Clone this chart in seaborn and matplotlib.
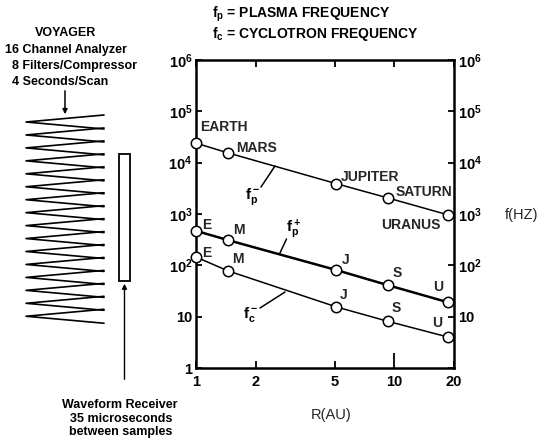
import matplotlib
matplotlib.use("Agg")
import matplotlib.pyplot as plt
import seaborn as sns
import pandas as pd
from matplotlib.ticker import FixedLocator, FixedFormatter, NullLocator

sns.set_style("white")
plt.rcParams['font.family'] = ['Liberation Sans', 'DejaVu Sans']
plt.rcParams['mathtext.fontset'] = 'custom'
plt.rcParams['mathtext.rm'] = 'Liberation Sans:bold'
plt.rcParams['mathtext.it'] = 'Liberation Sans:bold'
plt.rcParams['mathtext.bf'] = 'Liberation Sans:bold'

# ---- data ----
planets = ["EARTH", "MARS", "JUPITER", "SATURN", "URANUS"]
initials = ["E", "M", "J", "S", "U"]
r_au = [1.0, 1.45, 5.1, 9.3, 18.7]
fp_minus = [2.4e4, 1.55e4, 3.9e3, 2.05e3, 960]
fp_plus = [470, 310, 81, 41, 19]
fc_minus = [145, 78, 15.5, 8.1, 4.0]
x_ticks = [1, 2, 5, 10, 20]
x_tick_labels = ["1", "2", "5", "10", "20"]
y_ticks = [1, 10, 1e2, 1e3, 1e4, 1e5, 1e6]
y_tick_labels_left = ["1", "10", r"$\mathregular{10^{2}}$", r"$\mathregular{10^{3}}$",
                      r"$\mathregular{10^{4}}$", r"$\mathregular{10^{5}}$", r"$\mathregular{10^{6}}$"]
y_tick_labels_right = [""] + y_tick_labels_left[1:]

df = pd.DataFrame({"R": r_au * 3,
                   "f": fp_minus + fp_plus + fc_minus,
                   "series": ["fp-"] * 5 + ["fp+"] * 5 + ["fc-"] * 5})

W, H = 539, 441
fig = plt.figure(figsize=(W / 100, H / 100), dpi=100)
ax = fig.add_axes([196 / W, 1 - 368 / H, 258 / W, 308 / H])
ax.patch.set_alpha(0)

widths = {"fp-": 1.1, "fp+": 1.8, "fc-": 1.1}
for name, sub in df.groupby("series", sort=False):
    sns.lineplot(data=sub, x="R", y="f", ax=ax, color="black", lw=widths[name],
                 marker="o", ms=7.5, mfc="white", mec="black", mew=1.1,
                 estimator=None, sort=False, legend=False, clip_on=False, zorder=5)

ax.set_xscale("log")
ax.set_yscale("log")
ax.set_xlim(1, 20)
ax.set_ylim(1, 1e6)
ax.set_xlabel("")
ax.set_ylabel("")
for s in ax.spines.values():
    s.set_linewidth(1.8)
    s.set_color("black")

ax.xaxis.set_major_locator(FixedLocator(x_ticks))
ax.xaxis.set_major_formatter(FixedFormatter(x_tick_labels))
ax.xaxis.set_minor_locator(NullLocator())
ax.yaxis.set_major_locator(FixedLocator(y_ticks))
ax.yaxis.set_major_formatter(FixedFormatter(y_tick_labels_left))
ax.yaxis.set_minor_locator(NullLocator())
ax.tick_params(axis="x", which="major", direction="in", length=5, width=1.3,
               top=True, bottom=True, labelsize=10.5, pad=5, colors="black")
ax.tick_params(axis="y", which="major", direction="in", length=4.5, width=1.3,
               left=True, right=False, labelsize=10.5, pad=2.5, colors="black")
for lab in ax.get_xticklabels() + ax.get_yticklabels():
    lab.set_fontweight("bold")
# longer tick at 10 on bottom
for t, v in zip(ax.xaxis.get_major_ticks(), x_ticks):
    if v == 10:
        t.tick1line.set_markersize(11)

ax2 = ax.twinx()
ax2.set_yscale("log")
ax2.set_ylim(1, 1e6)
ax2.yaxis.set_major_locator(FixedLocator(y_ticks))
ax2.yaxis.set_major_formatter(FixedFormatter(y_tick_labels_right))
ax2.yaxis.set_minor_locator(NullLocator())
ax2.tick_params(axis="y", direction="in", length=4.5, width=1.3, labelsize=10.5, pad=3,
                colors="black")
for lab in ax2.get_yticklabels():
    lab.set_fontweight("bold")
for s in ax2.spines.values():
    s.set_visible(False)
ax.set_zorder(ax2.get_zorder() + 1)

# point labels (offsets in pixels -> points)
def lab(txt, x, y, dx, dy, ha="left"):
    ax.annotate(txt, (x, y), xytext=(dx * 0.72, -dy * 0.72), textcoords="offset points",
                ha=ha, va="center", fontsize=10, fontweight="bold")

fpm_off = [(4, -16, "left"), (8, -5, "left"), (4, -7, "left"), (8, -6, "left"), (-8, 10, "right")]
for name, x, y, (dx, dy, ha) in zip(planets, r_au, fp_minus, fpm_off):
    lab(name, x, y, dx, dy, ha)
fpp_off = [(6, -6, "left"), (5, -10, "left"), (5, -10, "left"), (5, -12, "left"), (-5, -15, "right")]
for name, x, y, (dx, dy, ha) in zip(initials, r_au, fp_plus, fpp_off):
    lab(name, x, y, dx, dy, ha)
fcm_off = [(6, -4, "left"), (4, -12, "left"), (3, -12, "left"), (4, -13, "left"), (-6, -14, "right")]
for name, x, y, (dx, dy, ha) in zip(initials, r_au, fc_minus, fcm_off):
    lab(name, x, y, dx, dy, ha)

# overlay in pixel coordinates for diagram and free text
ov = fig.add_axes([0, 0, 1, 1], zorder=10)
ov.set_xlim(0, W)
ov.set_ylim(H, 0)
ov.axis("off")
ov.patch.set_alpha(0)

bold = dict(fontweight="bold", color="black")
# curve labels with leaders
ov.text(252, 197, r"$\mathregular{f_p^-}$", ha="center", va="center", fontsize=11, **bold)
ov.plot([261, 275], [187, 166], color="black", lw=1.1)
ov.text(293, 229, r"$\mathregular{f_p^+}$", ha="center", va="center", fontsize=11, **bold)
ov.plot([286.5, 279.5], [239, 254], color="black", lw=1.1)
ov.text(250, 315, r"$\mathregular{f_c^-}$", ha="center", va="center", fontsize=11, **bold)
ov.plot([260, 285], [308, 292], color="black", lw=1.1)

# legend-like title
ov.text(212, 14, r"$\mathregular{f_p}$ = PLASMA FREQUENCY", ha="left", va="center", fontsize=10, **bold)
ov.text(212, 34, r"$\mathregular{f_c}$ = CYCLOTRON FREQUENCY", ha="left", va="center", fontsize=10, **bold)

# axis labels
ov.text(505, 215, "f(HZ)", ha="left", va="center", fontsize=10.5)
ov.text(331, 415, "R(AU)", ha="center", va="center", fontsize=10.5)

# Voyager text
ov.text(66, 33, "VOYAGER", ha="center", va="center", fontsize=9, **bold)
ov.text(5, 50, "16 Channel Analyzer", ha="left", va="center", fontsize=9, **bold)
ov.text(12, 66, "8 Filters/Compressor", ha="left", va="center", fontsize=9, **bold)
ov.text(12, 82, "4 Seconds/Scan", ha="left", va="center", fontsize=9, **bold)
ov.annotate("", xy=(65, 117), xytext=(65, 88),
            arrowprops=dict(arrowstyle="-|>", color="black", lw=1.1, mutation_scale=7))

# filter bank zigzag
for i in range(16):
    yc = 122 + 12.95 * i
    ov.plot([104, 26, 104], [yc - 7, yc, yc + 7], color="black", lw=1.2,
            solid_joinstyle="round")

# waveform receiver
ov.add_patch(plt.Rectangle((119, 154), 11, 127, fill=False, ec="black", lw=1.3))
ov.annotate("", xy=(124.5, 281), xytext=(124.5, 382),
            arrowprops=dict(arrowstyle="-|>", color="black", lw=1.0, mutation_scale=7))
ov.text(120, 405, "Waveform Receiver", ha="center", va="center", fontsize=9, **bold)
ov.text(121, 419, "35 microseconds", ha="center", va="center", fontsize=9, **bold)
ov.text(121, 432, "between samples", ha="center", va="center", fontsize=9, **bold)

fig.savefig("out.png", dpi=100)
